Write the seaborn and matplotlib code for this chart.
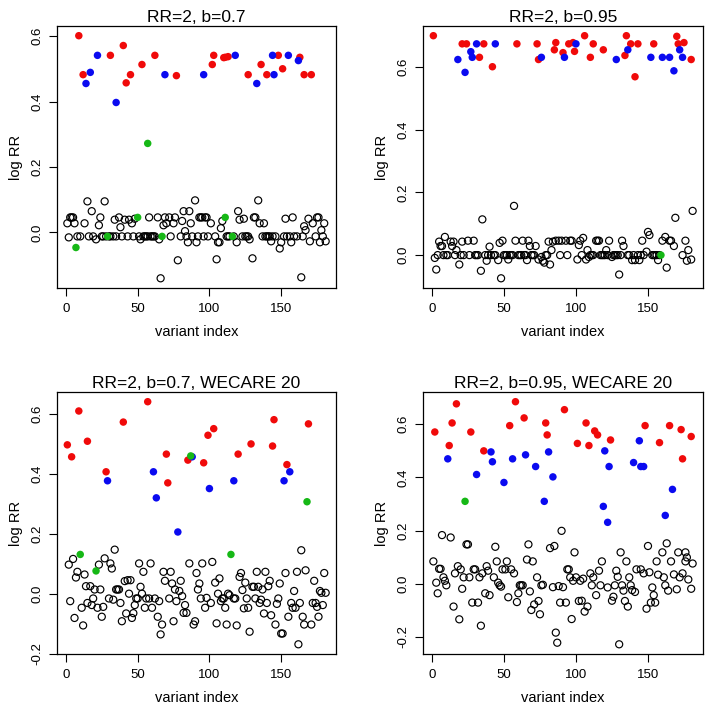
import matplotlib
matplotlib.use("Agg")
import matplotlib.pyplot as plt
import numpy as np
import pandas as pd
import seaborn as sns
from matplotlib.ticker import MultipleLocator, FormatStrFormatter

sns.set_style("ticks")
plt.rcParams['font.family'] = ['Liberation Sans', 'DejaVu Sans']
plt.rcParams['text.color'] = 'black'
plt.rcParams['axes.labelcolor'] = 'black'

# ---------------- Panel 1: RR=2, b=0.7 ----------------
p1_red_x = [9, 12, 31, 40, 42, 45, 53, 62, 77, 102, 103, 110, 111, 113, 127, 136, 140, 148, 151, 163, 166, 171]
p1_red_y = [0.601, 0.482, 0.541, 0.571, 0.457, 0.482, 0.513, 0.541, 0.479, 0.513, 0.541, 0.534, 0.535, 0.537,
            0.482, 0.513, 0.482, 0.541, 0.500, 0.535, 0.482, 0.482]
p1_blue_x = [14, 17, 22, 35, 69, 96, 118, 133, 144, 145, 155, 162]
p1_blue_y = [0.455, 0.489, 0.541, 0.397, 0.482, 0.482, 0.541, 0.455, 0.541, 0.482, 0.541, 0.525]
p1_green_x = [7, 29, 50, 57, 67, 111, 116]
p1_green_y = [-0.046, -0.012, 0.046, 0.272, -0.012, 0.046, -0.012]
p1_open_x = [1, 2, 3, 4, 5, 6, 8, 10, 13, 15,
             16, 18, 19, 21, 23, 24, 25, 26, 27, 28,
             30, 31, 33, 34, 35, 37, 38, 39, 41, 43,
             44, 46, 47, 48, 51, 52, 54, 55, 56, 57,
             58, 59, 60, 61, 62, 64, 65, 66, 68, 69,
             70, 72, 73, 75, 76, 78, 80, 81, 82, 83,
             84, 85, 86, 87, 88, 90, 91, 92, 93, 94,
             95, 96, 97, 98, 99, 101, 104, 105, 106, 107,
             108, 109, 112, 113, 114, 117, 119, 120, 121, 123,
             124, 125, 126, 127, 128, 130, 131, 132, 134, 135,
             137, 138, 139, 140, 141, 142, 143, 144, 146, 149,
             150, 152, 153, 154, 156, 157, 158, 159, 161, 164,
             165, 166, 167, 169, 170, 172, 174, 175, 176, 177,
             178, 179, 180, 181]
p1_open_y = [0.028, -0.015, 0.046, 0.046, 0.046, 0.028, -0.012, -0.012, 0.028, 0.095,
             -0.012, 0.065, -0.012, -0.021, 0.022, 0.046, -0.012, -0.012, 0.095, -0.012,
             -0.012, -0.012, -0.012, 0.039, -0.012, 0.046, 0.016, -0.012, 0.039, -0.012,
             0.039, 0.028, -0.012, 0.042, -0.012, -0.021, -0.012, -0.012, -0.012, -0.012,
             0.046, -0.012, -0.012, -0.012, -0.012, 0.046, -0.021, -0.140, 0.022, 0.046,
             0.028, 0.046, -0.012, 0.028, 0.046, -0.085, -0.012, 0.035, 0.065, 0.004,
             -0.012, -0.030, 0.065, 0.028, -0.012, 0.098, -0.030, -0.012, 0.046, 0.046,
             0.046, -0.012, 0.046, 0.046, -0.012, 0.028, -0.012, -0.082, -0.030, -0.030,
             0.013, 0.035, -0.012, -0.012, -0.012, -0.012, -0.030, 0.065, 0.039, -0.012,
             0.042, -0.012, -0.012, -0.012, -0.021, -0.079, 0.046, 0.046, 0.098, 0.028,
             -0.012, 0.028, -0.012, -0.012, -0.012, -0.012, -0.027, -0.012, -0.012, -0.049,
             -0.030, -0.012, 0.042, -0.012, -0.012, -0.030, 0.046, -0.012, -0.012, -0.137,
             -0.012, 0.019, 0.007, 0.042, -0.027, 0.028, -0.012, 0.046, 0.046, -0.030,
             0.007, -0.012, 0.028, -0.027]

# ---------------- Panel 2: RR=2, b=0.95 ----------------
p2_red_x = [1, 21, 24, 33, 36, 42, 59, 73, 74, 85, 86, 91, 95, 98, 99, 106, 110, 112, 119, 134, 135, 138, 141,
            143, 154, 170, 171, 175, 180]
p2_red_y = [0.700, 0.674, 0.674, 0.631, 0.674, 0.601, 0.674, 0.674, 0.624, 0.655, 0.678, 0.646, 0.674, 0.678,
            0.650, 0.700, 0.631, 0.674, 0.655, 0.637, 0.700, 0.674, 0.569, 0.674, 0.674, 0.698, 0.674, 0.678, 0.624]
p2_blue_x = [18, 23, 27, 28, 31, 44, 76, 92, 100, 128, 136, 152, 160, 165, 168, 172, 174]
p2_blue_y = [0.624, 0.583, 0.649, 0.631, 0.674, 0.674, 0.631, 0.631, 0.674, 0.624, 0.655, 0.631, 0.631, 0.631,
             0.588, 0.655, 0.631]
p2_green_x = [159]
p2_green_y = [0.0]
p2_open_x = [2, 3, 4, 5, 6, 7, 8, 9, 10, 11,
             13, 14, 15, 16, 17, 19, 20, 21, 22, 25,
             26, 29, 30, 31, 32, 34, 35, 37, 38, 39,
             40, 41, 43, 44, 46, 47, 48, 49, 50, 51,
             52, 53, 54, 55, 56, 57, 58, 60, 61, 62,
             63, 64, 65, 66, 67, 68, 69, 70, 71, 72,
             74, 76, 77, 78, 79, 80, 81, 82, 83, 84,
             86, 88, 89, 90, 93, 94, 96, 97, 101, 102,
             103, 104, 105, 107, 108, 109, 110, 111, 112, 114,
             115, 116, 117, 118, 119, 120, 121, 122, 123, 125,
             126, 127, 128, 129, 130, 131, 132, 133, 136, 137,
             139, 140, 141, 143, 144, 145, 146, 147, 149, 150,
             151, 153, 154, 155, 156, 157, 158, 160, 162, 163,
             165, 166, 168, 169, 174, 176, 177, 178, 180, 181]
p2_open_y = [-0.009, -0.046, 0.0, 0.043, 0.029, 0.029, 0.0, 0.058, 0.0, 0.0,
             0.043, 0.029, 0.043, 0.0, 0.016, -0.030, 0.0, 0.043, 0.0, 0.046,
             0.0, 0.046, 0.0, 0.0, 0.0, -0.050, 0.114, 0.0, -0.018, 0.0,
             0.027, 0.0, 0.0, 0.0, -0.016, 0.039, -0.074, 0.046, 0.0, 0.0,
             0.0, -0.014, 0.0, 0.0, 0.0, 0.157, 0.046, 0.0, 0.0, 0.0,
             0.046, 0.0, 0.0, -0.016, 0.046, 0.029, 0.0, 0.0, 0.0, 0.029,
             -0.014, -0.006, -0.018, -0.024, 0.0, 0.0, 0.043, -0.030, 0.016, 0.043,
             0.046, 0.046, 0.0, 0.046, 0.046, 0.0, 0.046, 0.046, -0.014, 0.032,
             0.046, 0.0, 0.055, -0.014, 0.016, -0.006, 0.0, 0.0, 0.0, 0.046,
             0.046, 0.046, 0.0, 0.0, 0.0, 0.0, 0.016, 0.0, 0.046, -0.006,
             0.0, 0.0, 0.0, 0.0, -0.062, 0.0, 0.046, 0.029, 0.0, 0.0,
             -0.016, 0.0, -0.016, 0.0, -0.016, 0.0, 0.046, 0.0, 0.011, 0.074,
             0.064, 0.0, 0.0, 0.0, 0.0, -0.016, 0.0, 0.046, 0.058, -0.040,
             0.046, 0.046, 0.029, 0.119, 0.0, 0.046, -0.018, 0.016, -0.014, 0.141]

# ---------------- Panel 3: RR=2, b=0.7, WECARE 20 ----------------
p3_red_x = [1, 4, 9, 15, 28, 40, 57, 70, 71, 85, 96, 99, 103, 120, 129, 144, 145, 154, 169]
p3_red_y = [0.497, 0.457, 0.610, 0.509, 0.407, 0.573, 0.641, 0.466, 0.370, 0.446, 0.437, 0.529, 0.551, 0.466,
            0.500, 0.493, 0.581, 0.431, 0.567]
p3_blue_x = [29, 61, 63, 78, 88, 100, 117, 152, 156]
p3_blue_y = [0.377, 0.407, 0.320, 0.206, 0.457, 0.351, 0.377, 0.377, 0.407]
p3_green_x = [10, 21, 87, 115, 168]
p3_green_y = [0.131, 0.076, 0.460, 0.131, 0.307]
p3_open_x = [2, 3, 5, 6, 7, 8, 11, 12, 13, 14,
             15, 17, 18, 19, 20, 22, 23, 24, 25, 26,
             27, 30, 31, 32, 33, 34, 35, 36, 37, 38,
             39, 41, 42, 43, 44, 45, 46, 47, 48, 49,
             50, 51, 52, 53, 54, 55, 56, 58, 59, 60,
             62, 64, 65, 66, 67, 68, 69, 72, 73, 74,
             75, 76, 77, 79, 80, 81, 82, 83, 84, 86,
             89, 90, 91, 92, 93, 94, 95, 97, 98, 101,
             102, 104, 105, 106, 107, 108, 109, 110, 111, 112,
             113, 114, 117, 118, 119, 121, 122, 123, 124, 125,
             126, 127, 128, 130, 131, 132, 133, 134, 135, 136,
             137, 138, 139, 140, 141, 142, 143, 146, 147, 148,
             149, 150, 151, 153, 155, 157, 158, 159, 160, 161,
             162, 163, 164, 165, 166, 167, 171, 172, 173, 174,
             175, 176, 177, 178, 179, 180, 181]
p3_open_y = [0.097, -0.025, 0.116, -0.081, 0.054, 0.073, -0.047, -0.106, 0.064, 0.025,
             -0.031, 0.025, -0.038, -0.016, 0.014, -0.047, 0.097, 0.014, -0.077, -0.044,
             0.118, -0.016, 0.101, 0.084, -0.020, 0.147, 0.014, 0.014, 0.014, -0.031,
             -0.092, 0.042, -0.066, 0.045, 0.0, 0.045, -0.081, -0.065, -0.038, -0.016,
             -0.016, 0.101, 0.023, 0.0, 0.073, -0.047, -0.016, -0.016, 0.101, -0.047,
             -0.016, -0.077, -0.025, -0.136, -0.103, 0.073, 0.043, -0.016, 0.073, 0.034,
             -0.092, 0.014, -0.025, 0.009, 0.043, -0.008, -0.064, -0.038, -0.064, 0.101,
             -0.103, -0.092, 0.069, 0.014, 0.034, -0.016, 0.101, -0.047, -0.014, -0.031,
             0.106, 0.037, -0.099, 0.0, 0.051, -0.025, -0.016, -0.016, -0.047, -0.103,
             0.0, -0.005, -0.016, -0.016, -0.106, 0.056, 0.069, 0.012, -0.049, 0.037,
             -0.016, -0.047, -0.127, 0.023, 0.023, -0.016, 0.073, 0.023, -0.031, -0.020,
             0.014, -0.066, 0.073, -0.031, 0.025, 0.043, -0.072, -0.103, -0.034, -0.016,
             0.034, -0.133, -0.133, 0.069, -0.077, -0.031, -0.047, 0.009, -0.047, 0.073,
             -0.169, -0.031, 0.145, -0.077, -0.103, 0.078, -0.103, -0.031, 0.043, -0.031,
             -0.044, -0.077, 0.009, 0.003, -0.038, 0.069, 0.003]

# ---------------- Panel 4: RR=2, b=0.95, WECARE 20 ----------------
p4_red_x = [2, 12, 14, 17, 27, 36, 54, 58, 64, 79, 80, 92, 101, 107, 109, 113, 115, 124, 148, 158, 165, 173,
            174, 180]
p4_red_y = [0.571, 0.520, 0.605, 0.677, 0.571, 0.500, 0.595, 0.685, 0.624, 0.605, 0.560, 0.655, 0.528, 0.605,
            0.520, 0.575, 0.560, 0.541, 0.595, 0.531, 0.595, 0.580, 0.470, 0.554]
p4_blue_x = [11, 31, 41, 42, 50, 56, 65, 72, 78, 81, 84, 119, 120, 122, 123, 140, 144, 145, 147, 162, 167]
p4_blue_y = [0.470, 0.411, 0.496, 0.459, 0.381, 0.470, 0.485, 0.441, 0.310, 0.496, 0.402, 0.291, 0.500, 0.231,
             0.441, 0.456, 0.538, 0.441, 0.441, 0.257, 0.355]
p4_green_x = [23]
p4_green_y = [0.310]
p4_open_x = [1, 3, 4, 5, 6, 7, 8, 9, 10, 13,
             15, 16, 18, 19, 20, 21, 22, 24, 25, 26,
             28, 29, 30, 32, 33, 34, 35, 37, 38, 39,
             40, 43, 44, 45, 46, 47, 48, 49, 51, 52,
             53, 55, 57, 59, 60, 61, 62, 63, 66, 67,
             68, 69, 70, 71, 73, 74, 75, 76, 77, 82,
             84, 85, 86, 87, 88, 89, 90, 91, 93, 94,
             95, 96, 97, 98, 99, 100, 102, 103, 104, 105,
             106, 108, 110, 111, 112, 114, 116, 117, 118, 122,
             125, 126, 127, 128, 129, 130, 131, 132, 133, 134,
             135, 136, 137, 138, 139, 141, 142, 145, 147, 149,
             150, 151, 152, 153, 154, 155, 156, 157, 160, 161,
             162, 163, 164, 166, 168, 170, 171, 172, 174, 176,
             176, 177, 178, 180, 181]
p4_open_y = [0.084, 0.004, -0.036, 0.056, 0.056, 0.183, 0.024, 0.011, -0.006, 0.174,
             -0.086, 0.039, 0.066, -0.134, 0.054, -0.019, 0.024, 0.148, 0.148, 0.024,
             -0.071, 0.054, 0.054, -0.071, 0.024, -0.158, 0.039, -0.036, 0.066, 0.049,
             -0.043, 0.024, 0.139, 0.084, 0.004, -0.006, -0.011, 0.054, 0.054, 0.084,
             -0.051, 0.054, 0.039, -0.069, -0.036, -0.006, -0.006, -0.006, 0.091, 0.148,
             -0.029, -0.099, 0.084, -0.078, 0.024, -0.065, -0.115, -0.006, -0.004, 0.134,
             -0.013, 0.142, -0.184, -0.222, -0.009, -0.071, 0.199, -0.013, -0.071, 0.054,
             0.054, 0.024, -0.133, 0.011, 0.118, 0.024, -0.065, 0.011, -0.064, 0.019,
             -0.105, -0.086, 0.039, -0.006, 0.024, -0.043, 0.049, -0.006, 0.084, -0.014,
             -0.064, -0.049, -0.006, 0.049, 0.026, -0.228, 0.118, -0.006, -0.026, -0.065,
             0.084, -0.086, 0.024, -0.006, -0.024, -0.031, 0.054, 0.054, 0.039, -0.094,
             0.142, 0.043, -0.071, -0.014, -0.043, -0.071, 0.084, 0.034, 0.118, 0.024,
             -0.006, 0.152, -0.026, 0.084, 0.035, -0.021, 0.118, 0.024, 0.039, 0.118,
             0.084, 0.099, 0.016, -0.019, 0.076]

titles = ["RR=2, b=0.7", "RR=2, b=0.95", "RR=2, b=0.7, WECARE 20", "RR=2, b=0.95, WECARE 20"]
x_label = "variant index"
y_label = "log RR"

panels = [
    (p1_open_x, p1_open_y, p1_red_x, p1_red_y, p1_blue_x, p1_blue_y, p1_green_x, p1_green_y),
    (p2_open_x, p2_open_y, p2_red_x, p2_red_y, p2_blue_x, p2_blue_y, p2_green_x, p2_green_y),
    (p3_open_x, p3_open_y, p3_red_x, p3_red_y, p3_blue_x, p3_blue_y, p3_green_x, p3_green_y),
    (p4_open_x, p4_open_y, p4_red_x, p4_red_y, p4_blue_x, p4_blue_y, p4_green_x, p4_green_y),
]

palette = {"red": "#F00A0A", "blue": "#0A0AF0", "green": "#16B816"}

W, H = 713, 714
fig = plt.figure(figsize=(W / 100, H / 100), dpi=100)
fig.patch.set_facecolor("white")

# axes boxes in pixel coords: (left, top, right, bottom)
boxes = [(57, 26, 336, 288), (423, 26, 703, 288), (57, 392, 336, 654), (423, 392, 703, 654)]

for i, (box, data) in enumerate(zip(boxes, panels)):
    l, t, r, b = box
    ax = fig.add_axes([l / W, 1 - b / H, (r - l) / W, (b - t) / H])
    ox, oy, rx, ry, bx, by, gx, gy = data
    open_df = pd.DataFrame({"x": ox, "y": oy})
    col_df = pd.DataFrame({
        "x": list(rx) + list(bx) + list(gx),
        "y": list(ry) + list(by) + list(gy),
        "grp": ["red"] * len(rx) + ["blue"] * len(bx) + ["green"] * len(gx),
    })
    sns.scatterplot(data=open_df, x="x", y="y", ax=ax, marker="o", s=26,
                    facecolors="none", edgecolor="black", linewidth=0.85, zorder=2)
    sns.scatterplot(data=col_df, x="x", y="y", hue="grp", palette=palette, ax=ax,
                    marker="o", s=29, linewidth=0, legend=False, zorder=3)

    allx = np.array(list(ox) + col_df["x"].tolist(), dtype=float)
    ally = np.array(list(oy) + col_df["y"].tolist(), dtype=float)
    xr = allx.max() - allx.min()
    yr = ally.max() - ally.min()
    ax.set_xlim(allx.min() - 0.04 * xr, allx.max() + 0.04 * xr)
    ax.set_ylim(ally.min() - 0.04 * yr, ally.max() + 0.04 * yr)

    ax.xaxis.set_major_locator(MultipleLocator(50))
    ax.yaxis.set_major_locator(MultipleLocator(0.2))
    ax.yaxis.set_major_formatter(FormatStrFormatter("%.1f"))
    ax.tick_params(axis="both", direction="out", length=6, width=0.8, labelsize=9.5,
                   colors="black", labelcolor="black")
    ax.tick_params(axis="x", pad=5)
    ax.tick_params(axis="y", pad=4)
    for lab in ax.get_yticklabels():
        lab.set_rotation(90)
        lab.set_va("center")
    for sp in ax.spines.values():
        sp.set_visible(True)
        sp.set_linewidth(0.9)
        sp.set_color("black")
    ax.set_title(titles[i], fontsize=12.5, pad=3, color="black")
    ax.set_xlabel(x_label, fontsize=10.5, labelpad=7, color="black")
    ax.set_ylabel(y_label, fontsize=10.5, labelpad=6, color="black")
    ax.set_facecolor("white")

fig.savefig("out.png", dpi=100, facecolor="white")
